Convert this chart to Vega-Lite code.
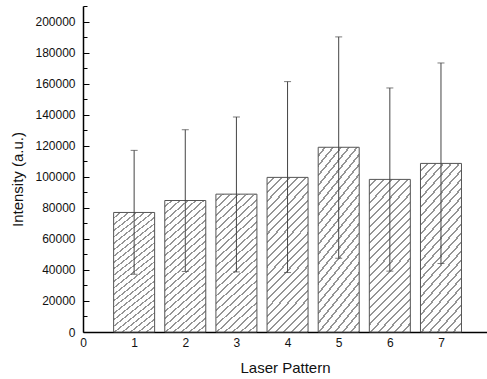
{
  "$schema": "https://vega.github.io/schema/vega-lite/v6.json",
  "autosize": "none",
  "padding": {"left": 83, "top": 6, "right": 0, "bottom": 47},
  "width": 404,
  "height": 326,
  "background": "white",
  "config": {
    "font": "Liberation Sans",
    "view": {"stroke": null},
    "axis": {"labelFont": "Liberation Sans", "titleFont": "Liberation Sans", "labelColor": "#111", "titleColor": "#111", "titleFontWeight": "normal", "grid": false, "domainColor": "#000", "tickColor": "#000"}
  },
  "data": {
    "values": [
      {"pattern": 1, "intensity": 77000, "low": 37200, "high": 117000},
      {"pattern": 2, "intensity": 84700, "low": 39000, "high": 130300},
      {"pattern": 3, "intensity": 88800, "low": 38700, "high": 138500},
      {"pattern": 4, "intensity": 99600, "low": 38300, "high": 161300},
      {"pattern": 5, "intensity": 119000, "low": 47500, "high": 190100},
      {"pattern": 6, "intensity": 98300, "low": 39200, "high": 157200},
      {"pattern": 7, "intensity": 108600, "low": 44100, "high": 173300}
    ]
  },
  "resolve": {"axis": {"y": "independent"}},
  "layer": [
    {
      "mark": {
        "type": "bar",
        "width": 41,
        "stroke": "#555",
        "strokeWidth": 1,
        "fill": {
          "gradient": "linear",
          "x1": 0, "y1": 0, "x2": 0.433, "y2": 1.586,
          "stops": [
            {"offset": 0, "color": "#ffffff"}, {"offset": 0.0234375, "color": "#ffffff"}, {"offset": 0.0234375, "color": "#959595"}, {"offset": 0.03125, "color": "#959595"},
            {"offset": 0.03125, "color": "#ffffff"}, {"offset": 0.0546875, "color": "#ffffff"}, {"offset": 0.0546875, "color": "#959595"}, {"offset": 0.0625, "color": "#959595"},
            {"offset": 0.0625, "color": "#ffffff"}, {"offset": 0.0859375, "color": "#ffffff"}, {"offset": 0.0859375, "color": "#959595"}, {"offset": 0.09375, "color": "#959595"},
            {"offset": 0.09375, "color": "#ffffff"}, {"offset": 0.1171875, "color": "#ffffff"}, {"offset": 0.1171875, "color": "#959595"}, {"offset": 0.125, "color": "#959595"},
            {"offset": 0.125, "color": "#ffffff"}, {"offset": 0.1484375, "color": "#ffffff"}, {"offset": 0.1484375, "color": "#959595"}, {"offset": 0.15625, "color": "#959595"},
            {"offset": 0.15625, "color": "#ffffff"}, {"offset": 0.1796875, "color": "#ffffff"}, {"offset": 0.1796875, "color": "#959595"}, {"offset": 0.1875, "color": "#959595"},
            {"offset": 0.1875, "color": "#ffffff"}, {"offset": 0.2109375, "color": "#ffffff"}, {"offset": 0.2109375, "color": "#959595"}, {"offset": 0.21875, "color": "#959595"},
            {"offset": 0.21875, "color": "#ffffff"}, {"offset": 0.2421875, "color": "#ffffff"}, {"offset": 0.2421875, "color": "#959595"}, {"offset": 0.25, "color": "#959595"},
            {"offset": 0.25, "color": "#ffffff"}, {"offset": 0.2734375, "color": "#ffffff"}, {"offset": 0.2734375, "color": "#959595"}, {"offset": 0.28125, "color": "#959595"},
            {"offset": 0.28125, "color": "#ffffff"}, {"offset": 0.3046875, "color": "#ffffff"}, {"offset": 0.3046875, "color": "#959595"}, {"offset": 0.3125, "color": "#959595"},
            {"offset": 0.3125, "color": "#ffffff"}, {"offset": 0.3359375, "color": "#ffffff"}, {"offset": 0.3359375, "color": "#959595"}, {"offset": 0.34375, "color": "#959595"},
            {"offset": 0.34375, "color": "#ffffff"}, {"offset": 0.3671875, "color": "#ffffff"}, {"offset": 0.3671875, "color": "#959595"}, {"offset": 0.375, "color": "#959595"},
            {"offset": 0.375, "color": "#ffffff"}, {"offset": 0.3984375, "color": "#ffffff"}, {"offset": 0.3984375, "color": "#959595"}, {"offset": 0.40625, "color": "#959595"},
            {"offset": 0.40625, "color": "#ffffff"}, {"offset": 0.4296875, "color": "#ffffff"}, {"offset": 0.4296875, "color": "#959595"}, {"offset": 0.4375, "color": "#959595"},
            {"offset": 0.4375, "color": "#ffffff"}, {"offset": 0.4609375, "color": "#ffffff"}, {"offset": 0.4609375, "color": "#959595"}, {"offset": 0.46875, "color": "#959595"},
            {"offset": 0.46875, "color": "#ffffff"}, {"offset": 0.4921875, "color": "#ffffff"}, {"offset": 0.4921875, "color": "#959595"}, {"offset": 0.5, "color": "#959595"},
            {"offset": 0.5, "color": "#ffffff"}, {"offset": 0.5234375, "color": "#ffffff"}, {"offset": 0.5234375, "color": "#959595"}, {"offset": 0.53125, "color": "#959595"},
            {"offset": 0.53125, "color": "#ffffff"}, {"offset": 0.5546875, "color": "#ffffff"}, {"offset": 0.5546875, "color": "#959595"}, {"offset": 0.5625, "color": "#959595"},
            {"offset": 0.5625, "color": "#ffffff"}, {"offset": 0.5859375, "color": "#ffffff"}, {"offset": 0.5859375, "color": "#959595"}, {"offset": 0.59375, "color": "#959595"},
            {"offset": 0.59375, "color": "#ffffff"}, {"offset": 0.6171875, "color": "#ffffff"}, {"offset": 0.6171875, "color": "#959595"}, {"offset": 0.625, "color": "#959595"},
            {"offset": 0.625, "color": "#ffffff"}, {"offset": 0.6484375, "color": "#ffffff"}, {"offset": 0.6484375, "color": "#959595"}, {"offset": 0.65625, "color": "#959595"},
            {"offset": 0.65625, "color": "#ffffff"}, {"offset": 0.6796875, "color": "#ffffff"}, {"offset": 0.6796875, "color": "#959595"}, {"offset": 0.6875, "color": "#959595"},
            {"offset": 0.6875, "color": "#ffffff"}, {"offset": 0.7109375, "color": "#ffffff"}, {"offset": 0.7109375, "color": "#959595"}, {"offset": 0.71875, "color": "#959595"},
            {"offset": 0.71875, "color": "#ffffff"}, {"offset": 0.7421875, "color": "#ffffff"}, {"offset": 0.7421875, "color": "#959595"}, {"offset": 0.75, "color": "#959595"},
            {"offset": 0.75, "color": "#ffffff"}, {"offset": 0.7734375, "color": "#ffffff"}, {"offset": 0.7734375, "color": "#959595"}, {"offset": 0.78125, "color": "#959595"},
            {"offset": 0.78125, "color": "#ffffff"}, {"offset": 0.8046875, "color": "#ffffff"}, {"offset": 0.8046875, "color": "#959595"}, {"offset": 0.8125, "color": "#959595"},
            {"offset": 0.8125, "color": "#ffffff"}, {"offset": 1, "color": "#ffffff"}
          ]
        }
      },
      "encoding": {
        "x": {
          "field": "pattern", "type": "quantitative",
          "scale": {"domain": [0, 7.9], "nice": false, "zero": true, "padding": 0},
          "axis": {"title": "Laser Pattern", "values": [0, 1, 2, 3, 4, 5, 6, 7], "ticks": false, "labelPadding": 5, "labelFontSize": 12, "titleFontSize": 15, "titlePadding": 12, "domainWidth": 1.5, "labelFlush": false}
        },
        "y": {
          "field": "intensity", "type": "quantitative",
          "scale": {"domain": [0, 210000], "nice": false},
          "axis": {"orient": "left", "title": "Intensity (a.u.)", "values": [0, 20000, 40000, 60000, 80000, 100000, 120000, 140000, 160000, 180000, 200000], "format": "d", "tickSize": -6, "labelPadding": 14, "labelFontSize": 12, "titleFontSize": 15, "titlePadding": 9, "titleY": 173, "domainWidth": 1.5, "labelFlush": false}
        }
      }
    },
    {
      "mark": {"type": "errorbar", "ticks": {"size": 7, "color": "#444", "thickness": 1}, "rule": {"color": "#444", "strokeWidth": 1}},
      "encoding": {
        "x": {"field": "pattern", "type": "quantitative"},
        "y": {
          "field": "low", "type": "quantitative",
          "axis": {"orient": "left", "title": null, "labels": false, "domain": false, "values": [10000, 30000, 50000, 70000, 90000, 110000, 130000, 150000, 170000, 190000, 210000], "tickSize": -4}
        },
        "y2": {"field": "high"}
      }
    }
  ]
}
